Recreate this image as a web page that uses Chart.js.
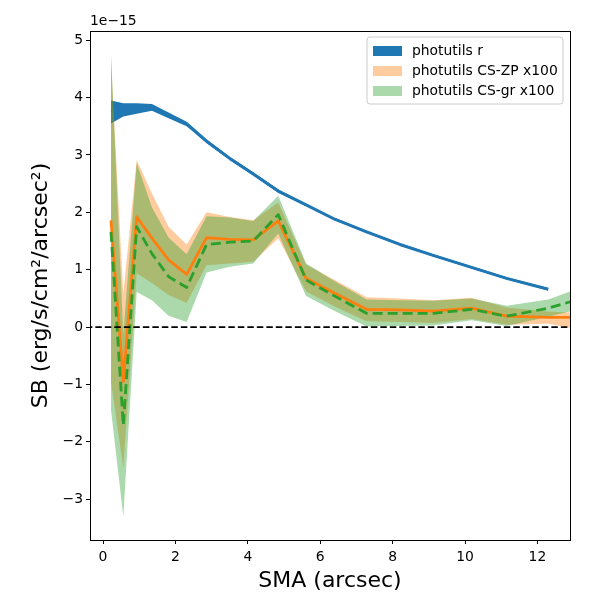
<!DOCTYPE html>
<html>
<head>
<meta charset="utf-8">
<script src="https://cdn.jsdelivr.net/npm/chart.js@4.4.1/dist/chart.umd.min.js"></script>
<style>
  body { margin: 0; background: #fff; }
  #wrap { width: 600px; height: 600px; }
</style>
</head>
<body>
<div id="wrap"><canvas id="sbChart" width="600" height="600"></canvas></div>
<script>
// all SB values in units of 1e-15 erg/s/cm^2/arcsec^2
var smaR = [0.22, 0.56, 0.93, 1.35, 1.81, 2.31, 2.86, 3.5, 4.15, 4.84, 5.61, 6.4, 7.28, 8.2, 9.12, 10.18, 11.15, 12.3];
var sbR   = [3.75, 3.78, 3.81, 3.83, 3.69, 3.54, 3.24, 2.94, 2.67, 2.37, 2.13, 1.88, 1.66, 1.44, 1.25, 1.04, 0.85, 0.66];
var sbRHi = [3.95, 3.90, 3.90, 3.89, 3.74, 3.58, 3.27, 2.97, 2.70, 2.40, 2.15, 1.90, 1.68, 1.46, 1.27, 1.06, 0.87, 0.68];
var sbRLo = [3.55, 3.67, 3.72, 3.77, 3.64, 3.50, 3.21, 2.91, 2.64, 2.34, 2.11, 1.86, 1.64, 1.42, 1.23, 1.02, 0.83, 0.64];

var smaCS = [0.22, 0.56, 0.93, 1.35, 1.81, 2.31, 2.86, 3.5, 4.15, 4.84, 5.61, 6.4, 7.28, 8.2, 9.12, 10.18, 11.15, 12.3, 13.5];
// photutils CS-ZP x100
var sbZP   = [1.86, -0.95, 1.92, 1.55, 1.17, 0.92, 1.56, 1.53, 1.52, 1.85, 0.85, 0.59, 0.31, 0.30, 0.28, 0.33, 0.19, 0.17, 0.17];
var sbZPHi = [4.65,  0.58, 2.91, 2.33, 1.75, 1.44, 2.00, 1.92, 1.86, 2.17, 1.09, 0.82, 0.52, 0.50, 0.47, 0.51, 0.34, 0.27, 0.24];
var sbZPLo = [-0.95, -2.46, 0.94, 0.77, 0.56, 0.42, 1.08, 1.11, 1.14, 1.55, 0.62, 0.36, 0.10, 0.09, 0.07, 0.14, 0.04, 0.06, -0.08];
// photutils CS-gr x100
var sbGR   = [1.66, -1.71, 1.75, 1.28, 0.88, 0.69, 1.44, 1.48, 1.50, 1.96, 0.82, 0.54, 0.24, 0.24, 0.24, 0.31, 0.19, 0.33, 0.55];
var sbGRHi = [4.76, -0.12, 2.86, 2.09, 1.56, 1.27, 1.93, 1.91, 1.85, 2.29, 1.11, 0.80, 0.48, 0.47, 0.46, 0.50, 0.37, 0.48, 0.76];
var sbGRLo = [-1.44, -3.30, 0.61, 0.47, 0.20, 0.09, 0.95, 1.05, 1.11, 1.63, 0.54, 0.28, 0.01, 0.02, 0.03, 0.12, 0.02, 0.18, 0.36];

var zeroX = [-1, 14];
var zeroY = [0, 0];

var xTicks = [0, 2, 4, 6, 8, 10, 12];
var yTicks = [-3, -2, -1, 0, 1, 2, 3, 4, 5];

var legendItems = ["photutils r", "photutils CS-ZP x100", "photutils CS-gr x100"];

var BLUE = "#1f77b4", ORANGE = "#ff7f0e", GREEN = "#2ca02c";
var ORANGE_A = "rgba(255,127,14,0.4)", GREEN_A = "rgba(44,160,44,0.4)";
var FONT = "'DejaVu Sans', sans-serif";

function pts(xs, ys) {
    return xs.map(function(x, i) { return { x: x, y: ys[i] }; });
}

function band(xs, hi, lo, color, order) {
    return [
        { data: pts(xs, hi), borderWidth: 0, pointRadius: 0, fill: "+1", backgroundColor: color, order: order, clip: 0 },
        { data: pts(xs, lo), borderWidth: 0, pointRadius: 0, fill: false, backgroundColor: color, order: order, clip: 0 }
    ];
}

function line(xs, ys, color, width, dash, order) {
    return { data: pts(xs, ys), borderColor: color, borderWidth: width, borderDash: dash, pointRadius: 0,
             fill: false, order: order, clip: 0, borderCapStyle: "butt", borderJoinStyle: "round" };
}

// lower order is drawn on top
var datasets = [].concat(
    band(smaR, sbRHi, sbRLo, BLUE, 9),
    [line(smaR, sbR, BLUE, 3, [], 8)],
    band(smaCS, sbZPHi, sbZPLo, ORANGE_A, 7),
    band(smaCS, sbGRHi, sbGRLo, GREEN_A, 6),
    [line(smaCS, sbZP, ORANGE, 2.8, [], 5)],
    [line(smaCS, sbGR, GREEN, 2.8, [10, 5], 4)],
    [line(zeroX, zeroY, "#000", 1.6, [6.5, 3], 1)]
);

var frameAndLegend = {
    id: "frameAndLegend",
    afterDraw: function(chart) {
        var ctx = chart.ctx, a = chart.chartArea;
        ctx.save();
        // axes frame
        ctx.strokeStyle = "#000";
        ctx.lineWidth = 1;
        ctx.strokeRect(Math.round(a.left) + 0.5, Math.round(a.top) + 0.5,
                       Math.round(a.right - a.left), Math.round(a.bottom - a.top));
        // offset text
        ctx.fillStyle = "#000";
        ctx.font = "13.9px " + FONT;
        ctx.textBaseline = "middle";
        ctx.textAlign = "left";
        ctx.fillText("1e\u221215", a.left, 21);

        // legend box
        var bx = 367, by = 37, bw = 196, bh = 67, r = 3;
        ctx.beginPath();
        ctx.moveTo(bx + r, by);
        ctx.arcTo(bx + bw, by, bx + bw, by + bh, r);
        ctx.arcTo(bx + bw, by + bh, bx, by + bh, r);
        ctx.arcTo(bx, by + bh, bx, by, r);
        ctx.arcTo(bx, by, bx + bw, by, r);
        ctx.closePath();
        ctx.fillStyle = "rgba(255,255,255,0.8)";
        ctx.fill();
        ctx.strokeStyle = "#cccccc";
        ctx.stroke();

        var colors = [BLUE, ORANGE_A, GREEN_A];
        var rows = [51, 71, 91];
        ctx.font = "13.9px " + FONT;
        for (var i = 0; i < legendItems.length; i++) {
            ctx.fillStyle = colors[i];
            ctx.fillRect(373, rows[i] - 5, 29, 10);
            ctx.fillStyle = "#000";
            ctx.fillText(legendItems[i], 412, rows[i]);
        }
        ctx.restore();
    }
};

new Chart(document.getElementById("sbChart"), {
    type: "line",
    data: { datasets: datasets },
    options: {
        responsive: false,
        animation: false,
        events: [],
        layout: { padding: { top: 31, right: 30, left: 0, bottom: 0 } },
        plugins: {
            legend: { display: false },
            tooltip: { enabled: false },
            filler: { propagate: false }
        },
        scales: {
            x: {
                type: "linear",
                min: -0.36,
                max: 12.9,
                afterBuildTicks: function(s) { s.ticks = xTicks.map(function(v) { return { value: v }; }); },
                afterFit: function(s) { s.height = 60; },
                grid: { display: true, drawOnChartArea: false, drawTicks: true, tickLength: 4, color: "#000", lineWidth: 1 },
                border: { display: false },
                ticks: { color: "#000", font: { family: FONT, size: 13.9 }, padding: 5, maxRotation: 0 },
                title: { display: true, text: "SMA (arcsec)", color: "#000", font: { family: FONT, size: 22 }, padding: { top: 0, bottom: 6 } }
            },
            y: {
                type: "linear",
                min: -3.71,
                max: 5.16,
                afterBuildTicks: function(s) { s.ticks = yTicks.map(function(v) { return { value: v }; }); },
                afterFit: function(s) { s.width = 90; },
                grid: { display: true, drawOnChartArea: false, drawTicks: true, tickLength: 4, color: "#000", lineWidth: 1 },
                border: { display: false },
                ticks: {
                    color: "#000", font: { family: FONT, size: 13.9 }, padding: 3,
                    callback: function(v) { return String(v).replace("-", "\u2212"); }
                },
                title: { display: true, text: "SB (erg/s/cm\u00b2/arcsec\u00b2)", color: "#000", font: { family: FONT, size: 22 }, padding: { top: 28, bottom: 0 } }
            }
        }
    },
    plugins: [frameAndLegend]
});
</script>
</body>
</html>
